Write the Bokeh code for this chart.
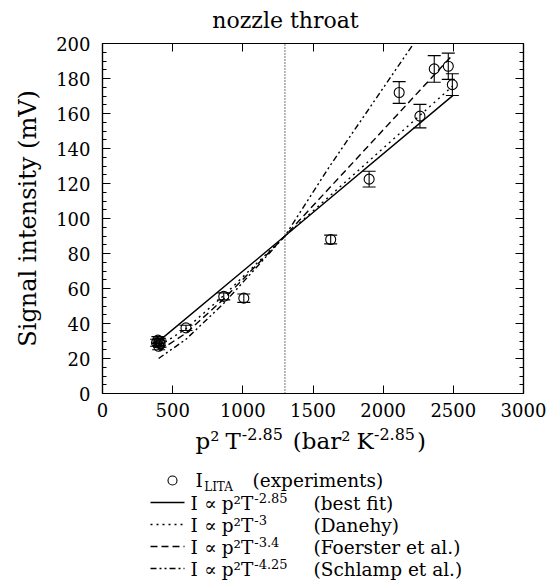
import numpy as np
from bokeh.plotting import figure
from bokeh.models import (Range1d, LinearAxis, Label, Whisker, TeeHead, ColumnDataSource,
                          FixedTicker, CustomJSTickFormatter)
from bokeh.layouts import column
from bokeh.embed import file_html
from bokeh.resources import INLINE

FONT = "DejaVu Serif"

# ---------------- data ----------------
x_exp = [385, 395, 405, 410, 400, 595, 864, 1007, 1626, 1900, 2114, 2262, 2364, 2464, 2493]
y_exp = [29.0, 30.5, 29.5, 28.5, 27.0, 37.5, 55.5, 54.5, 88.0, 122.5, 172.0, 158.5, 185.5, 187.0, 176.5]
err_exp = [2.0, 2.0, 2.0, 2.0, 2.0, 1.5, 2.0, 2.4, 2.5, 4.5, 6.2, 6.7, 7.6, 7.5, 6.2]

x_best = [410, 1300, 2500]
y_best = [30.5, 90.0, 170.5]
x_danehy = [410, 595, 864, 1300, 2493]
y_danehy = [27.5, 37.0, 56.0, 90.0, 175.5]
x_foerster = [405, 595, 864, 1300, 2490]
y_foerster = [24.5, 34.5, 54.0, 90.0, 193.0]
x_schlamp = [400, 595, 864, 1300, 1620, 2260]
y_schlamp = [20.0, 31.0, 51.5, 90.0, 130.0, 205.0]
x_throat = 1300

x_ticks = [0, 500, 1000, 1500, 2000, 2500, 3000]
y_ticks = list(range(0, 201, 20))
y_minor = list(range(0, 201, 5))

legend_exponents = ["-2.85", "-2.85", "-3", "-3.4", "-4.25"]
legend_notes = ["(experiments)", "(best fit)", "(Danehy)", "(Foerster et al.)", "(Schlamp et al.)"]

# ---------------- geometry (page pixels) ----------------
W = 554
FL, FR, FT, FB = 102, 523, 43, 393   # frame edges
TOP_H = 33                           # title strip
MAIN_BOTTOM = 423                    # bottom of main figure
XMAX, YMAX = 3000, 200

EM = {' ': 0.318, '.': 0.318, '-': 0.338, '(': 0.39, ')': 0.39, 'I': 0.468, 'T': 0.668,
      'K': 0.72, 'L': 0.637, 'A': 0.722, 'p': 0.64, 'b': 0.64, 'a': 0.596, 'r': 0.478,
      'e': 0.592, 'x': 0.564, 'i': 0.32, 'm': 0.948, 'n': 0.644, 't': 0.402, 's': 0.513,
      'f': 0.37, 'D': 0.77, 'h': 0.644, 'y': 0.565, 'F': 0.668, 'o': 0.602, 'l': 0.32,
      'S': 0.635, 'c': 0.562, 'z': 0.525, '\u221d': 0.62, '\u00b2': 0.401}

def width(txt, size):
    return sum(EM.get(ch, 0.636) for ch in txt) * size

def shift(size):
    # the svg text baseline lands lower than requested; compensate
    return 0.3 * size

def place_runs(fig, x0, base, runs):
    """runs: (text, font px, rise, gap before)"""
    x = x0
    for txt, size, rise, gap in runs:
        x += gap
        fig.add_layout(Label(x=x, y=base - rise - shift(size), text=txt,
                             text_font=FONT, text_font_size=f"{size}px",
                             text_color="black", text_align="left",
                             text_baseline="alphabetic"))
        x += width(txt, size)
    return x

def drop_title(fig):
    try:
        fig.title = None
    except Exception:
        fig.title.visible = False

def pixel_fig(y_top, y_bottom):
    f = figure(width=W, height=y_bottom - y_top, x_range=Range1d(FL, FR),
               y_range=Range1d(y_bottom, y_top), output_backend="svg",
               toolbar_location=None, x_axis_location=None, y_axis_location=None,
               min_border_left=FL, min_border_right=W - FR, min_border_top=0,
               min_border_bottom=0)
    drop_title(f)
    f.grid.visible = False
    f.outline_line_color = None
    f.background_fill_color = "white"
    f.border_fill_color = "white"
    return f

DOT = "2 4"
DASH = "7 4"
DASHDOT = "6 3 2 3 2 3"

# ---------------- title strip ----------------
t = pixel_fig(0, TOP_H)
t.add_layout(Label(x=285, y=27 - shift(22), text="nozzle throat", text_font=FONT,
                   text_font_size="22px", text_align="center", text_baseline="alphabetic",
                   text_color="black"))

# ---------------- main figure ----------------
p = figure(width=W, height=MAIN_BOTTOM - TOP_H, x_range=Range1d(0, XMAX),
           y_range=Range1d(0, YMAX), output_backend="svg", toolbar_location=None,
           min_border_left=FL, min_border_right=W - FR, min_border_top=FT - TOP_H,
           min_border_bottom=MAIN_BOTTOM - FB)
drop_title(p)
p.grid.visible = False
p.outline_line_color = "black"
p.outline_line_width = 1.2
p.background_fill_color = "white"
p.border_fill_color = "white"

p.xaxis.ticker = FixedTicker(ticks=x_ticks, minor_ticks=[])
p.yaxis.ticker = FixedTicker(ticks=y_ticks, minor_ticks=y_minor)

def style_axis(ax):
    ax.axis_line_color = "black"
    ax.axis_line_width = 1.2
    ax.major_tick_in = 8
    ax.major_tick_out = 0
    ax.minor_tick_in = 4
    ax.minor_tick_out = 0
    ax.major_tick_line_color = "black"
    ax.minor_tick_line_color = "black"
    ax.major_label_text_font = FONT
    ax.major_label_text_font_size = "18px"
    ax.major_label_text_color = "black"

for ax in p.xaxis + p.yaxis:
    style_axis(ax)
p.xaxis.major_label_standoff = 9
p.yaxis.major_label_standoff = 12

p.yaxis.axis_label = "Signal intensity (mV)"
p.yaxis.axis_label_text_font = FONT
p.yaxis.axis_label_text_font_size = "24px"
p.yaxis.axis_label_text_font_style = "normal"
p.yaxis.axis_label_text_color = "black"
p.yaxis.axis_label_standoff = 11

blank = CustomJSTickFormatter(code="return ''")
top_ax = LinearAxis(ticker=FixedTicker(ticks=x_ticks, minor_ticks=[]), formatter=blank)
right_ax = LinearAxis(ticker=FixedTicker(ticks=y_ticks, minor_ticks=y_minor), formatter=blank)
for ax in (top_ax, right_ax):
    style_axis(ax)
    ax.major_label_standoff = 0
    ax.major_label_text_font_size = "0px"
p.add_layout(top_ax, "above")
p.add_layout(right_ax, "right")

# throat position
p.line([x_throat, x_throat], [0, YMAX], line_color="black", line_width=1.1, line_dash="1 2")

# model curves
p.line(x_best, y_best, line_color="black", line_width=1.4)
p.line(x_danehy, y_danehy, line_color="black", line_width=1.4, line_dash=DOT)
p.line(x_foerster, y_foerster, line_color="black", line_width=1.4, line_dash=DASH)
p.line(x_schlamp, y_schlamp, line_color="black", line_width=1.4, line_dash=DASHDOT)

# experiments
src = ColumnDataSource(dict(x=x_exp, y=y_exp,
                            lo=[a - b for a, b in zip(y_exp, err_exp)],
                            hi=[a + b for a, b in zip(y_exp, err_exp)]))
p.add_layout(Whisker(source=src, base="x", upper="hi", lower="lo", dimension="height",
                     line_color="black", line_width=1.1,
                     upper_head=TeeHead(size=13, line_color="black", line_width=1.1),
                     lower_head=TeeHead(size=13, line_color="black", line_width=1.1)))
p.scatter("x", "y", source=src, marker="circle", size=10, fill_alpha=0,
          line_color="black", line_width=1.1)

# ---------------- x label + legend strip ----------------
q = pixel_fig(MAIN_BOTTOM, 582)

BS, SS, RISE = 23, 16, 9
place_runs(q, 195, 447, [("p\u00b2", BS, 0, 0), ("T", BS, 0, 6), ("-2.85", SS, RISE, 1),
                         ("(bar\u00b2", BS, 0, 10), ("K", BS, 0, 6), ("-2.85", SS, RISE, 1),
                         (")", BS, 0, 2)])

LB, LS, LR = 18.5, 13, 8
bases = [486, 509, 531, 553, 575]
styles = [None, None, DOT, DASH, DASHDOT]

q.scatter([172], [bases[0] - 6], marker="circle", size=9, fill_alpha=0, line_color="black",
          line_width=1.1)
place_runs(q, 195, bases[0], [("I", LB, 0, 0), ("LITA", 12, -4, 0)])
place_runs(q, 252, bases[0], [(legend_notes[0], LB, 0, 0)])

for i in range(1, 5):
    b = bases[i]
    yc = b - 7
    if styles[i] is None:
        q.line([150, 184], [yc, yc], line_color="black", line_width=1.4)
    else:
        q.line([150, 184], [yc, yc], line_color="black", line_width=1.4, line_dash=styles[i])
    place_runs(q, 190, b, [("I", LB, 0, 0), ("\u221d", LB, 0, 5), ("p\u00b2T", LB, 0, 6),
                           (legend_exponents[i], LS, LR, 1)])
    place_runs(q, 313, b, [(legend_notes[i], LB, 0, 0)])

layout = column(t, p, q, spacing=0)
open("out.html", "w").write(file_html(layout, INLINE))
